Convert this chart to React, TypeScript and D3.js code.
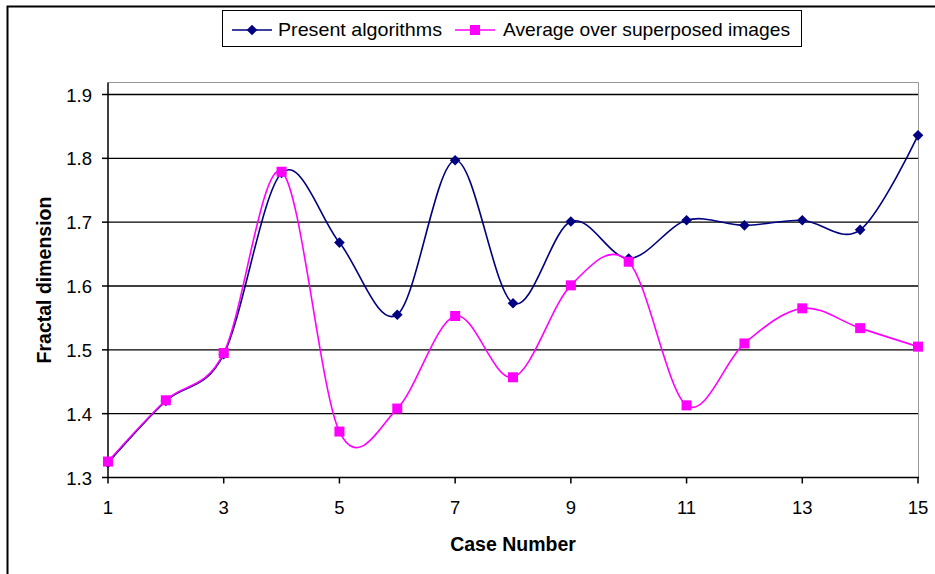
import * as React from 'react';
import * as d3 from 'd3';

// case numbers 1..15
const cases = d3.range(1, 16);
const xTicks = [1, 3, 5, 7, 9, 11, 13, 15];
const yTicks = [1.3, 1.4, 1.5, 1.6, 1.7, 1.8, 1.9];

const presentAlgorithms = [1.323, 1.42, 1.493, 1.777, 1.668, 1.555, 1.797, 1.573, 1.701, 1.643, 1.703, 1.695, 1.703, 1.688, 1.836];
const averageSuperposed = [1.325, 1.421, 1.495, 1.779, 1.372, 1.408, 1.553, 1.457, 1.601, 1.638, 1.413, 1.51, 1.565, 1.534, 1.505];

const seriesNames = ['Present algorithms', 'Average over superposed images'];

const font = 'Liberation Sans, Arial, sans-serif';

const App: React.FC = () => {
  const width = 935;
  const height = 574;
  const left = 108;
  const right = 918;
  const top = 82.5;
  const bottom = 477.5;

  const x = d3.scaleLinear().domain([1, 15]).range([left, right]);
  const y = d3.scaleLinear().domain([1.3, 1.9]).range([bottom, 94.5]);

  const line = d3.line<number>()
    .x((d, i) => x(cases[i]))
    .y(d => y(d))
    .curve(d3.curveCardinal.tension(0));

  const diamond = d3.symbol().type(d3.symbolDiamond2).size(72)();

  return (
    <svg width={width} height={height} style={{ position: 'absolute', left: 0, top: 0 }}>
      <rect x={0} y={0} width={width} height={height} fill="white" />
      <rect x={7.5} y={6.5} width={1200} height={1200} fill="none" stroke="black" strokeWidth={2} />

      {/* plot area */}
      <line x1={left} x2={right + 0.5} y1={top} y2={top} stroke="#999" />
      <line x1={right + 0.5} x2={right + 0.5} y1={top} y2={bottom} stroke="#999" />
      {yTicks.slice(1).map(t => (
        <line key={t} x1={left} x2={right} y1={y(t)} y2={y(t)} stroke="black" strokeWidth={1.4} />
      ))}
      <line x1={left} x2={right + 1} y1={bottom} y2={bottom} stroke="black" strokeWidth={1.5} />
      <line x1={left} x2={left} y1={top} y2={bottom} stroke="black" strokeWidth={1.5} />

      {/* y ticks */}
      {yTicks.map(t => (
        <g key={t}>
          <line x1={left - 6} x2={left} y1={y(t)} y2={y(t)} stroke="black" strokeWidth={1.5} />
          <text x={92} y={y(t) + 7} textAnchor="end" fontFamily={font} fontSize={18.5}>
            {d3.format('.1f')(t)}
          </text>
        </g>
      ))}

      {/* x ticks */}
      {xTicks.map(t => (
        <g key={t}>
          <line x1={x(t)} x2={x(t)} y1={bottom} y2={bottom + 6} stroke="black" strokeWidth={1.5} />
          <text x={x(t)} y={514} textAnchor="middle" fontFamily={font} fontSize={18.5}>
            {t}
          </text>
        </g>
      ))}

      {/* axis titles */}
      <text x={513} y={551} textAnchor="middle" fontFamily={font} fontSize={19.5} fontWeight="bold">
        Case Number
      </text>
      <text transform="translate(51,280) rotate(-90)" textAnchor="middle" fontFamily={font} fontSize={19.5} fontWeight="bold">
        Fractal dimension
      </text>

      {/* series */}
      <path d={line(presentAlgorithms) || undefined} fill="none" stroke="#000080" strokeWidth={1.6} />
      {presentAlgorithms.map((d, i) => (
        <path key={i} d={diamond || undefined} transform={`translate(${x(cases[i])},${y(d)})`} fill="#000080" />
      ))}
      <path d={line(averageSuperposed) || undefined} fill="none" stroke="#FF00FF" strokeWidth={1.6} />
      {averageSuperposed.map((d, i) => (
        <rect key={i} x={x(cases[i]) - 5} y={y(d) - 5} width={10} height={10} fill="#FF00FF" />
      ))}

      {/* legend */}
      <rect x={222.5} y={10.5} width={579} height={36} fill="white" stroke="black" />
      <line x1={232} x2={272} y1={30} y2={30} stroke="#000080" strokeWidth={1.6} />
      <path d={diamond || undefined} transform="translate(252,30)" fill="#000080" />
      <text x={278} y={36} fontFamily={font} fontSize={18.5} textLength={164} lengthAdjust="spacingAndGlyphs">
        {seriesNames[0]}
      </text>
      <line x1={455} x2={495} y1={30} y2={30} stroke="#FF00FF" strokeWidth={1.6} />
      <rect x={470} y={25} width={10} height={10} fill="#FF00FF" />
      <text x={503} y={36} fontFamily={font} fontSize={18.5} textLength={287} lengthAdjust="spacingAndGlyphs">
        {seriesNames[1]}
      </text>
    </svg>
  );
};

export default App;
